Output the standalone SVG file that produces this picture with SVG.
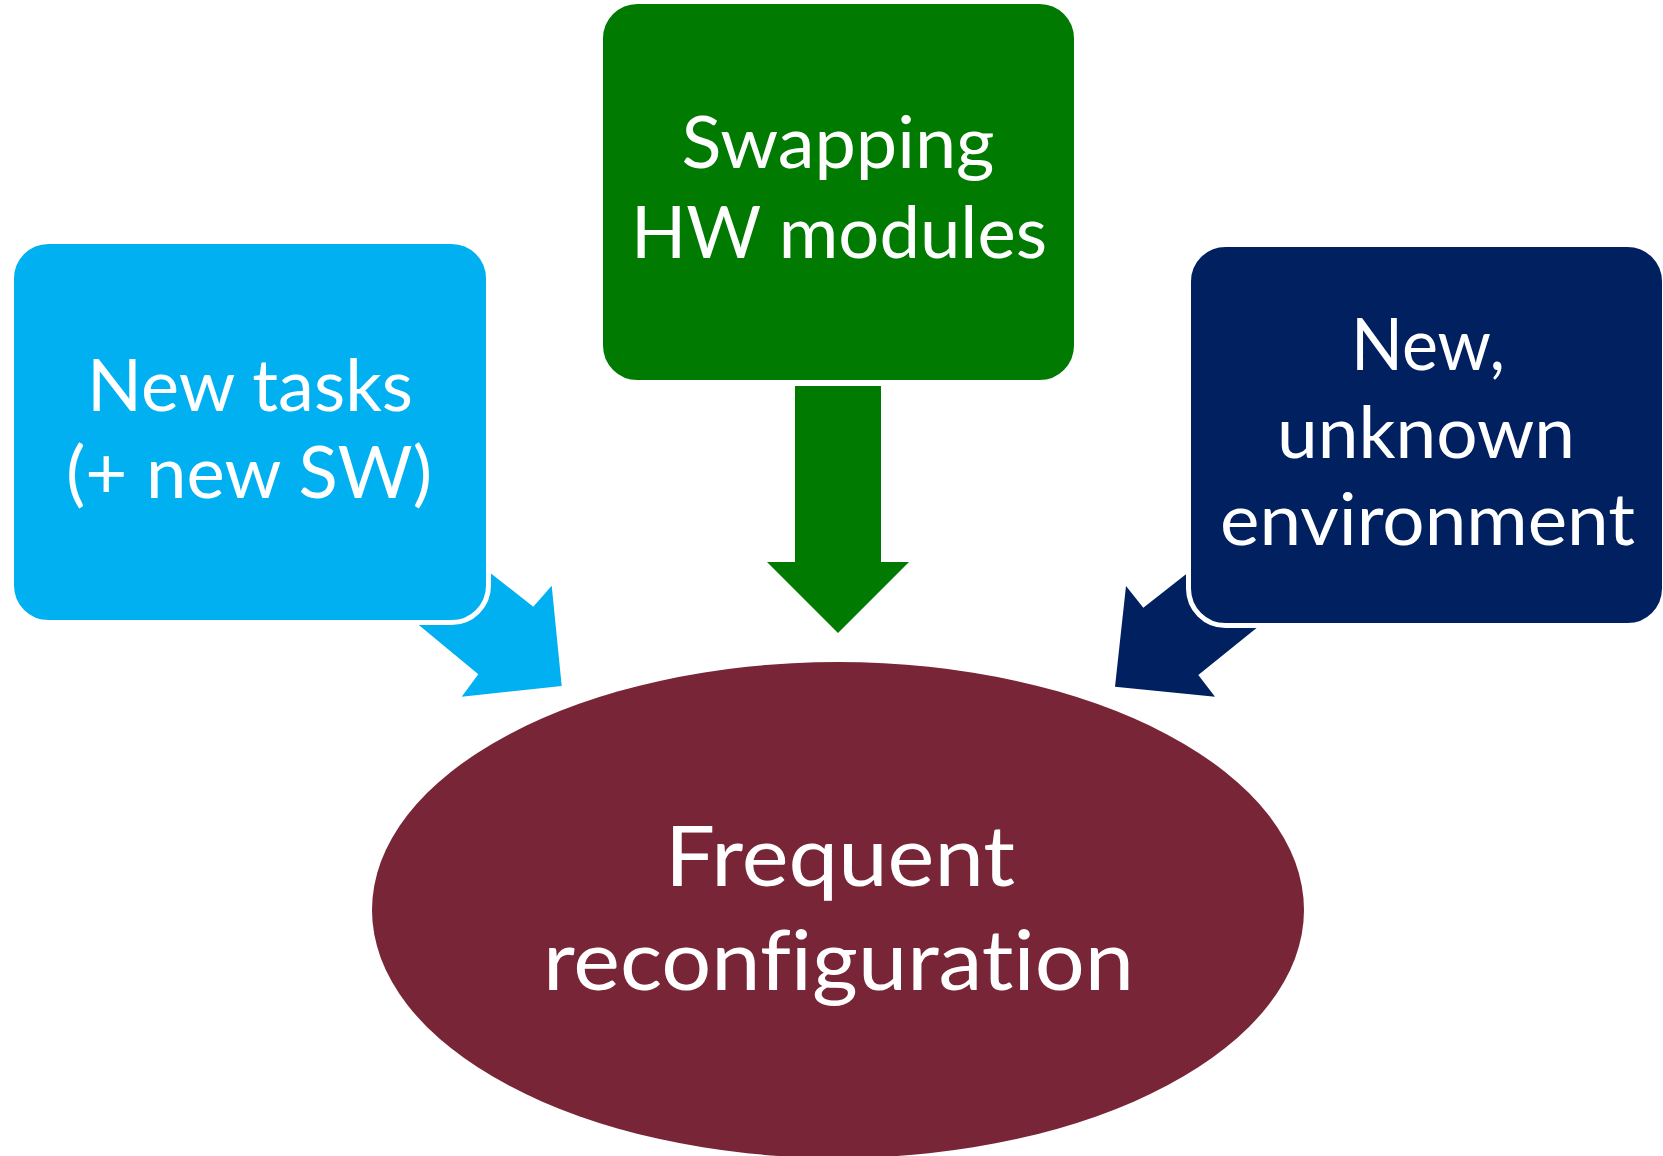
<svg xmlns="http://www.w3.org/2000/svg" width="1663" height="1156" viewBox="0 0 1663 1156">
<style>
.box{stroke:#fff;stroke-width:5}
.lbl{font-family:Lato,"Open Sans","Liberation Sans",sans-serif;fill:#fff;text-anchor:middle;font-size:72px;font-variant-ligatures:none;font-feature-settings:"liga" 0,"clig" 0}
.big{font-size:84px}
</style>
<rect width="1663" height="1156" fill="#fff"/>
<g id="connectors">
<polygon id="arrow-tasks" fill="#00B0F0" points="428.7,522.8 490.7,573.3 533.3,606.7 551.7,585.7 561.7,686 461.7,696.7 478.3,674.3 420,626 358,575.5"/>
<polygon id="arrow-hw" fill="#007A00" points="795,386 881,386 881,562 909,562 838,633 767,562 795,562"/>
<polygon id="arrow-env" fill="#002060" points="1248,525.6 1185,575 1143.3,607.7 1126,586 1115,686.7 1215,696.7 1198.3,675 1255,629.3 1318,580"/>
</g>
<g id="node-tasks">
<rect class="box" x="11.5" y="241.5" width="477" height="381" rx="37" fill="#00B0F0"/>
<text class="lbl" x="250" y="411" textLength="326" lengthAdjust="spacingAndGlyphs">New tasks</text>
<text class="lbl" x="249" y="498" textLength="366" lengthAdjust="spacingAndGlyphs">(+ new SW)</text>
</g>
<g id="node-hw">
<rect class="box" x="600.5" y="1.5" width="476" height="381" rx="37" fill="#007A00"/>
<text class="lbl" x="838" y="168" textLength="313" lengthAdjust="spacingAndGlyphs">Swapping</text>
<text class="lbl" x="839" y="258" textLength="416" lengthAdjust="spacingAndGlyphs">HW modules</text>
</g>
<g id="node-env">
<rect class="box" x="1188.5" y="244.5" width="476" height="381" rx="37" fill="#002060"/>
<text class="lbl" x="1428" y="370" textLength="154" lengthAdjust="spacingAndGlyphs">New,</text>
<text class="lbl" x="1426" y="458" textLength="298" lengthAdjust="spacingAndGlyphs">unknown</text>
<text class="lbl" x="1427.5" y="545" textLength="415" lengthAdjust="spacingAndGlyphs">environment</text>
</g>
<g id="node-reconf">
<ellipse cx="838" cy="910" rx="466" ry="248" fill="#772537"/>
<text class="lbl big" x="840" y="886" textLength="350" lengthAdjust="spacingAndGlyphs">Frequent</text>
<text class="lbl big" x="838.5" y="990" textLength="591" lengthAdjust="spacingAndGlyphs">reconfiguration</text>
</g>
</svg>
